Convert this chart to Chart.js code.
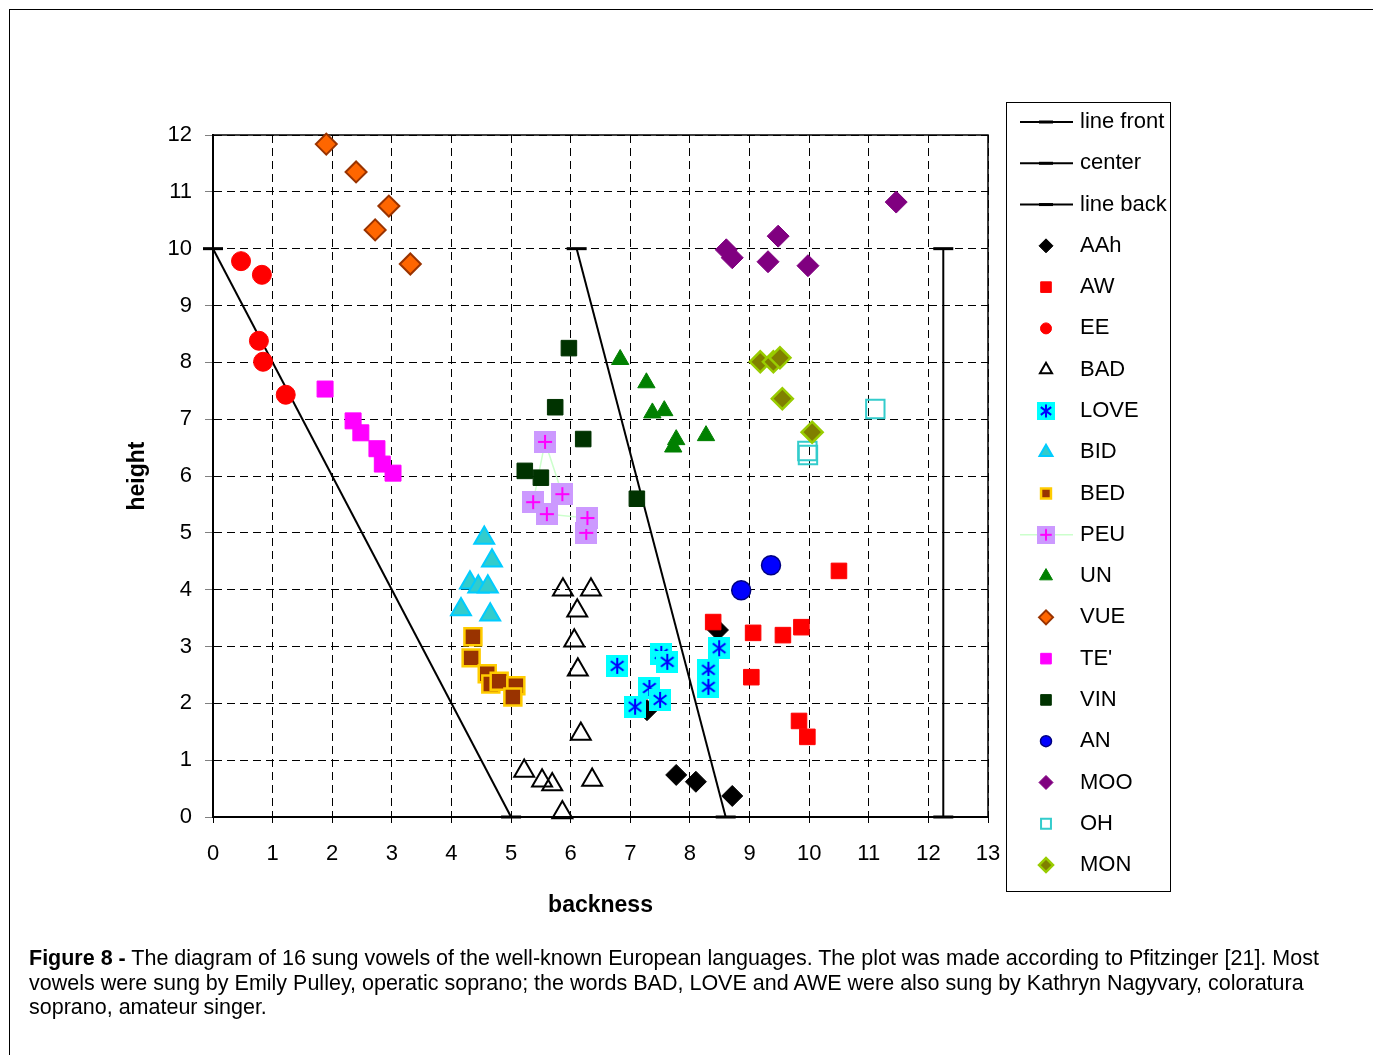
<!DOCTYPE html>
<html>
<head>
<meta charset="utf-8">
<title>Sung vowels - height vs backness</title>
<script src="https://cdn.jsdelivr.net/npm/chart.js@4.4.1/dist/chart.umd.min.js"></script>
<style>
  html, body { margin: 0; padding: 0; background: #fff; }
  body { width: 1373px; height: 1055px; position: relative; overflow: hidden;
         font-family: "Liberation Sans", Arial, sans-serif; }
  #frame { position: absolute; left: 9px; top: 9px; width: 1400px; height: 1100px;
           border-left: 1.5px solid #000; border-top: 1.5px solid #000; }
  #chart { position: absolute; left: 0; top: 0; }
  #caption { position: absolute; left: 29px; top: 946px; font-size: 21.5px; line-height: 24.5px;
             color: #000; white-space: nowrap; }
</style>
</head>
<body>
<div id="frame"></div>
<canvas id="chart" width="1373" height="1055"></canvas>
<div id="caption"><b>Figure 8 -</b> The diagram of 16 sung vowels of the well-known European languages. The plot was made according to Pfitzinger [21]. Most<br>vowels were sung by Emily Pulley, operatic soprano; the words BAD, LOVE and AWE were also sung by Kathryn Nagyvary, coloratura<br>soprano, amateur singer.</div>
<script>
// reference lines [backness, height]
const lineFront  = [[0, 10], [5, 0]];
const lineCenter = [[6.1, 10], [8.6, 0]];
const lineBack   = [[12.25, 10], [12.25, 0]];

// vowels [backness, height]
const aah  = [[8.47, 3.29], [7.28, 1.88], [7.77, 0.74], [8.10, 0.62], [8.71, 0.37]];
const aw   = [[10.50, 4.33], [8.39, 3.43], [9.06, 3.24], [9.56, 3.20], [9.87, 3.34], [9.03, 2.46], [9.83, 1.69], [9.97, 1.41]];
const ee   = [[0.47, 9.78], [0.82, 9.54], [0.77, 8.38], [0.84, 8.01], [1.22, 7.43]];
const bad  = [[5.87, 4.00], [6.34, 4.00], [6.11, 3.63], [6.06, 3.10], [6.12, 2.59], [6.17, 1.46], [5.22, 0.81], [5.52, 0.64], [5.69, 0.57], [6.36, 0.65], [5.86, 0.08]];
const love = [[6.78, 2.66], [7.52, 2.87], [7.62, 2.73], [7.32, 2.27], [7.08, 1.94], [7.50, 2.06], [8.49, 2.97], [8.31, 2.59], [8.31, 2.29]];
const bid  = [[4.55, 4.91], [4.68, 4.51], [4.31, 4.12], [4.45, 4.05], [4.61, 4.05], [4.16, 3.65], [4.65, 3.56]];
const bed  = [[4.36, 3.17], [4.33, 2.80], [4.60, 2.52], [4.66, 2.34], [4.80, 2.39], [5.08, 2.31], [5.03, 2.11]];
const peu  = [[6.26, 5.00], [6.28, 5.26], [5.60, 5.33], [5.37, 5.54], [5.57, 6.60], [5.86, 5.68]];
const un   = [[6.83, 8.05], [7.27, 7.64], [7.37, 7.11], [7.57, 7.15], [7.77, 6.64], [7.72, 6.51], [8.27, 6.71]];
const vue  = [[1.90, 11.84], [2.40, 11.35], [2.95, 10.75], [2.72, 10.33], [3.31, 9.73]];
const te   = [[1.88, 7.53], [2.35, 6.97], [2.48, 6.76], [2.75, 6.48], [2.84, 6.21], [3.02, 6.05]];
const vin  = [[5.97, 8.25], [5.74, 7.21], [6.21, 6.65], [5.23, 6.09], [5.50, 5.97], [7.11, 5.60]];
const an   = [[9.36, 4.43], [8.86, 3.99]];
const moo  = [[11.46, 10.82], [9.48, 10.22], [8.61, 9.98], [8.71, 9.84], [9.31, 9.77], [9.98, 9.70]];
const oh   = [[11.11, 7.18], [9.97, 6.44], [9.98, 6.37]];
const mon  = [[9.18, 8.01], [9.40, 8.01], [9.51, 8.08], [9.55, 7.36], [10.05, 6.77]];

const FONT = '"Liberation Sans", Arial, sans-serif';

// cyan square with a blue asterisk
function loveMark(size) {
    const c = document.createElement('canvas');
    c.width = c.height = size;
    const g = c.getContext('2d');
    g.fillStyle = '#00ffff';
    g.fillRect(0, 0, size, size);
    g.strokeStyle = '#0000ff';
    g.lineWidth = 2;
    const m = size / 2, a = size * 0.36;
    g.beginPath();
    g.moveTo(m, m - a); g.lineTo(m, m + a);
    g.moveTo(m - a * 0.8, m - a * 0.6); g.lineTo(m + a * 0.8, m + a * 0.6);
    g.moveTo(m - a * 0.8, m + a * 0.6); g.lineTo(m + a * 0.8, m - a * 0.6);
    g.stroke();
    return c;
}

// lilac square with a magenta plus
function peuMark(size) {
    const c = document.createElement('canvas');
    c.width = c.height = size;
    const g = c.getContext('2d');
    g.fillStyle = '#cc99ff';
    g.fillRect(0, 0, size, size);
    g.strokeStyle = '#ff00ff';
    g.lineWidth = 2;
    const m = size / 2, a = size * 0.32;
    g.beginPath();
    g.moveTo(m, m - a); g.lineTo(m, m + a);
    g.moveTo(m - a, m); g.lineTo(m + a, m);
    g.stroke();
    return c;
}

const toPts = arr => arr.map(([x, y]) => ({ x, y }));

function refLine(label, pts) {
    return {
        label, data: toPts(pts), showLine: true,
        borderColor: '#000', borderWidth: 2,
        pointStyle: 'line', pointRadius: 10, pointBorderWidth: 3,
        pointBorderColor: '#000', pointBackgroundColor: '#000',
        legendRadius: 7
    };
}

function vowel(label, pts, style, radius, fill, stroke, bw, legendRadius) {
    return {
        label, data: toPts(pts), showLine: false,
        pointStyle: style, pointRadius: radius,
        pointBackgroundColor: fill, pointBorderColor: stroke, pointBorderWidth: bw,
        legendRadius
    };
}

const datasets = [
    refLine('line front', lineFront),
    refLine('center', lineCenter),
    refLine('line back', lineBack),
    vowel('AAh', aah, 'rectRot', 10.5, '#000', '#000', 1, 7),
    vowel('AW', aw, 'rect', 11, '#ff0000', '#ff0000', 1, 7.5),
    vowel('EE', ee, 'circle', 9.5, '#ff0000', '#ff0000', 1, 5.5),
    vowel('BAD', bad, 'triangle', 11.5, 'rgba(0,0,0,0)', '#000', 2, 7),
    Object.assign(vowel('LOVE', love, loveMark(22), 11, '#00ffff', '#0000ff', 0, 9), { legendStyle: loveMark(18) }),
    vowel('BID', bid, 'triangle', 11.5, '#33cccc', '#00ccff', 2, 7.5),
    vowel('BED', bed, 'rect', 12, '#993300', '#ffcc00', 2.5, 7),
    Object.assign(vowel('PEU', peu, peuMark(22), 11, '#cc99ff', '#ff00ff', 0, 9), {
        showLine: true, borderColor: '#ccffcc', borderWidth: 1.5, legendStyle: peuMark(18)
    }),
    vowel('UN', un, 'triangle', 10, '#008000', '#008000', 1, 7.5),
    vowel('VUE', vue, 'rectRot', 10.5, '#ff6600', '#993300', 2, 7),
    vowel("TE'", te, 'rect', 11.3, '#ff00ff', '#ff00ff', 1, 7.5),
    vowel('VIN', vin, 'rect', 11, '#003300', '#003300', 1, 7.5),
    vowel('AN', an, 'circle', 9.5, '#0000ff', '#000080', 1.5, 5.5),
    vowel('MOO', moo, 'rectRot', 11, '#800080', '#800080', 1, 7),
    vowel('OH', oh, 'rect', 13, 'rgba(0,0,0,0)', '#33cccc', 2, 7),
    vowel('MON', mon, 'rectRot', 10.5, '#808000', '#99cc00', 2.5, 7)
];

// later series sit on top of earlier ones
datasets.forEach((ds, i) => { ds.order = -i; ds.clip = false; });

// solid top and right edges of the plot area
const plotFrame = {
    id: 'plotFrame',
    beforeDatasetsDraw(chart) {
        const { ctx, chartArea: a } = chart;
        ctx.save();
        ctx.strokeStyle = '#000';
        ctx.lineWidth = 1.5;
        ctx.beginPath();
        ctx.moveTo(a.left, a.top);
        ctx.lineTo(a.right, a.top);
        ctx.lineTo(a.right, a.bottom);
        ctx.stroke();
        ctx.restore();
    }
};

// boxed legend on the right
const sideLegend = {
    id: 'sideLegend',
    afterDraw(chart) {
        const ctx = chart.ctx;
        const left = 1006, top = 102, right = 1170, bottom = 891;
        ctx.save();
        ctx.strokeStyle = '#000';
        ctx.lineWidth = 1;
        ctx.strokeRect(left + 0.5, top + 0.5, right - left, bottom - top);
        chart.data.datasets.forEach((ds, i) => {
            const y = 122 + i * 41.28;
            const mx = 1046;
            if (ds.showLine) {
                ctx.strokeStyle = ds.borderColor;
                ctx.lineWidth = ds.borderWidth;
                ctx.setLineDash([]);
                ctx.beginPath();
                ctx.moveTo(1020, y);
                ctx.lineTo(1073, y);
                ctx.stroke();
            }
            ctx.fillStyle = ds.pointBackgroundColor;
            ctx.strokeStyle = ds.pointBorderColor;
            ctx.lineWidth = ds.pointBorderWidth;
            Chart.helpers.drawPoint(ctx, {
                pointStyle: ds.legendStyle || ds.pointStyle,
                radius: ds.legendRadius,
                borderWidth: ds.pointBorderWidth,
                rotation: 0
            }, mx, y);
            ctx.fillStyle = '#000';
            ctx.font = '22px ' + FONT;
            ctx.textBaseline = 'middle';
            ctx.textAlign = 'left';
            ctx.fillText(ds.label, 1080, y);
        });
        ctx.restore();
    }
};

const tickFont = { family: FONT, size: 22 };
const titleFont = { family: FONT, size: 23, weight: 'bold' };

new Chart(document.getElementById('chart'), {
    type: 'scatter',
    data: { datasets },
    plugins: [plotFrame, sideLegend],
    options: {
        responsive: false,
        animation: false,
        layout: { padding: { left: 110, top: 135, right: 385, bottom: 120 } },
        plugins: { legend: { display: false }, tooltip: { enabled: false } },
        elements: { line: { tension: 0 } },
        scales: {
            x: {
                type: 'linear', min: 0, max: 13,
                ticks: { stepSize: 1, color: '#000', font: tickFont, padding: 18 },
                grid: { color: '#000', lineWidth: 1, tickLength: 6, tickColor: '#000', tickBorderDash: [] },
                border: { display: true, color: '#000', width: 2, dash: [8, 5] },
                title: { display: true, text: 'backness', color: '#000', font: titleFont, padding: { top: 0, bottom: 16 } },
                afterFit(scale) { scale.height = 118; }
            },
            y: {
                type: 'linear', min: 0, max: 12,
                ticks: { stepSize: 1, color: '#000', font: tickFont, padding: 13 },
                grid: { color: '#000', lineWidth: 1, tickLength: 8, tickColor: '#808080', tickBorderDash: [] },
                border: { display: true, color: '#000', width: 2, dash: [8, 5] },
                title: { display: true, text: 'height', color: '#000', font: titleFont, padding: { top: 14, bottom: 0 } },
                afterFit(scale) { scale.width = 103; }
            }
        }
    }
});
</script>
</body>
</html>
